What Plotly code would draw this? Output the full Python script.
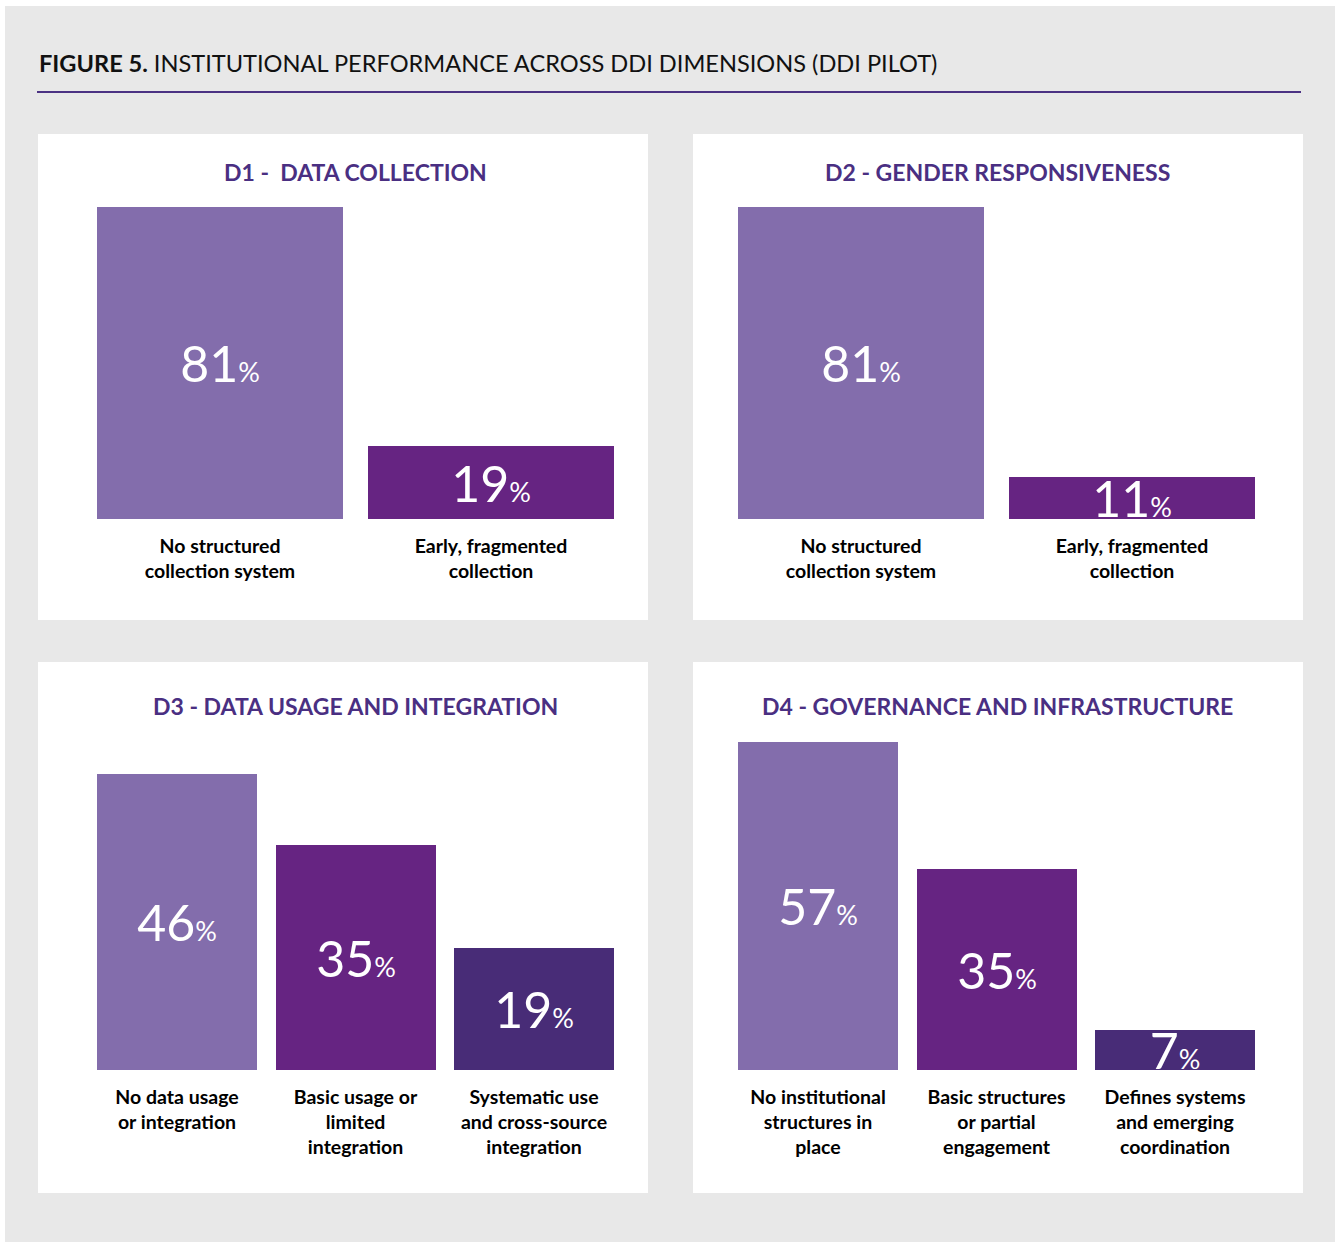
import plotly.graph_objects as go

W, H = 1339, 1242

# ---- data ----
d1_cats = ["No structured<br>collection system", "Early, fragmented<br>collection"]
d1_vals = [81, 19]
d2_cats = ["No structured<br>collection system", "Early, fragmented<br>collection"]
d2_vals = [81, 11]
d3_cats = ["No data usage<br>or integration", "Basic usage or<br>limited<br>integration",
           "Systematic use<br>and cross-source<br>integration"]
d3_vals = [46, 35, 19]
d4_cats = ["No institutional<br>structures in<br>place", "Basic structures<br>or partial<br>engagement",
           "Defines systems<br>and emerging<br>coordination"]
d4_vals = [57, 35, 7]

panel_titles = ["D1 -  DATA COLLECTION", "D2 - GENDER RESPONSIVENESS",
                "D3 - DATA USAGE AND INTEGRATION", "D4 - GOVERNANCE AND INFRASTRUCTURE"]
fig_title = "<b>FIGURE 5.</b> INSTITUTIONAL PERFORMANCE ACROSS DDI DIMENSIONS (DDI PILOT)"

C_LIGHT = "#836dac"
C_MID = "#662482"
C_DARK = "#482c77"
C_TITLE = "#4a2f82"

FONT = "Lato"


def px(x):
    return x / W


def py(y):
    return 1 - y / H


panels = [
    # cats, vals, colors, x-left, x-right, y-top(px for max value), y-bottom, pitch
    (d1_cats, d1_vals, [C_LIGHT, C_MID], 97, 614, 207, 519, 271.0),
    (d2_cats, d2_vals, [C_LIGHT, C_MID], 738, 1255, 207, 519, 271.0),
    (d3_cats, d3_vals, [C_LIGHT, C_MID, C_DARK], 97, 614, 774, 1070, 178.5),
    (d4_cats, d4_vals, [C_LIGHT, C_MID, C_DARK], 738, 1255, 742, 1070, 178.5),
]

fig = go.Figure()
layout_axes = {}
for i, (cats, vals, cols, xl, xr, yt, yb, pitch) in enumerate(panels, start=1):
    n = len(cats)
    w = (xr - xl - (n - 1) * pitch) / pitch  # bar width in category units
    xs = list(range(n))
    texts = [f"{v}<span style='font-size:27px'>%</span>" for v in vals]
    fig.add_trace(go.Bar(
        x=xs, y=vals, width=[w] * n,
        marker=dict(color=cols, line=dict(width=0)),
        text=texts, textposition="inside", insidetextanchor="middle",
        textangle=0, constraintext="none",
        textfont=dict(family=FONT, size=50, color="white"),
        hoverinfo="skip", showlegend=False,
        xaxis=f"x{i}", yaxis=f"y{i}",
    ))
    suffix = "" if i == 1 else str(i)
    layout_axes[f"xaxis{suffix}"] = dict(
        domain=[px(xl), px(xr)], range=[-w / 2, n - 1 + w / 2],
        anchor=f"y{i}", tickmode="array", tickvals=xs, ticktext=cats,
        tickfont=dict(family=FONT, size=19.5, color="#000000", weight="bold"),
        showgrid=False, zeroline=False, showline=False, ticks="",
        ticklabelstandoff=13, fixedrange=True,
    )
    layout_axes[f"yaxis{suffix}"] = dict(
        domain=[py(yb), py(yt)], range=[0, max(vals)], anchor=f"x{i}",
        showgrid=False, zeroline=False, showline=False, showticklabels=False,
        ticks="", fixedrange=True,
    )

shapes = [
    dict(type="rect", xref="paper", yref="paper", x0=px(5), x1=px(1335), y0=py(1242), y1=py(6),
         fillcolor="#e8e8e8", line=dict(width=0), layer="below"),
    dict(type="line", xref="paper", yref="paper", x0=px(37), x1=px(1301), y0=py(92), y1=py(92),
         line=dict(color="#4b3283", width=2), layer="below"),
]
for (x0, x1, y0, y1) in [(38, 648, 134, 620), (693, 1303, 134, 620),
                         (38, 648, 662, 1193), (693, 1303, 662, 1193)]:
    shapes.append(dict(type="rect", xref="paper", yref="paper", x0=px(x0), x1=px(x1),
                       y0=py(y1), y1=py(y0), fillcolor="white", line=dict(width=0), layer="below"))

annotations = [
    dict(text=fig_title, xref="paper", yref="paper", x=px(37), y=py(63), xanchor="left",
         yanchor="middle", showarrow=False, font=dict(family=FONT, size=23.6, color="#111111")),
]
for t, (cx, cy) in zip(panel_titles, [(355, 172), (997, 172), (355, 706), (997, 706)]):
    annotations.append(dict(text=f"<b>{t}</b>", xref="paper", yref="paper", x=px(cx), y=py(cy),
                            xanchor="center", yanchor="middle", showarrow=False,
                            font=dict(family=FONT, size=23, color=C_TITLE)))

fig.update_layout(
    width=W, height=H, margin=dict(l=0, r=0, t=0, b=0),
    paper_bgcolor="white", plot_bgcolor="rgba(0,0,0,0)",
    shapes=shapes, annotations=annotations, bargap=0,
    **layout_axes,
)

fig.write_html("out.html", config={"displayModeBar": False})
